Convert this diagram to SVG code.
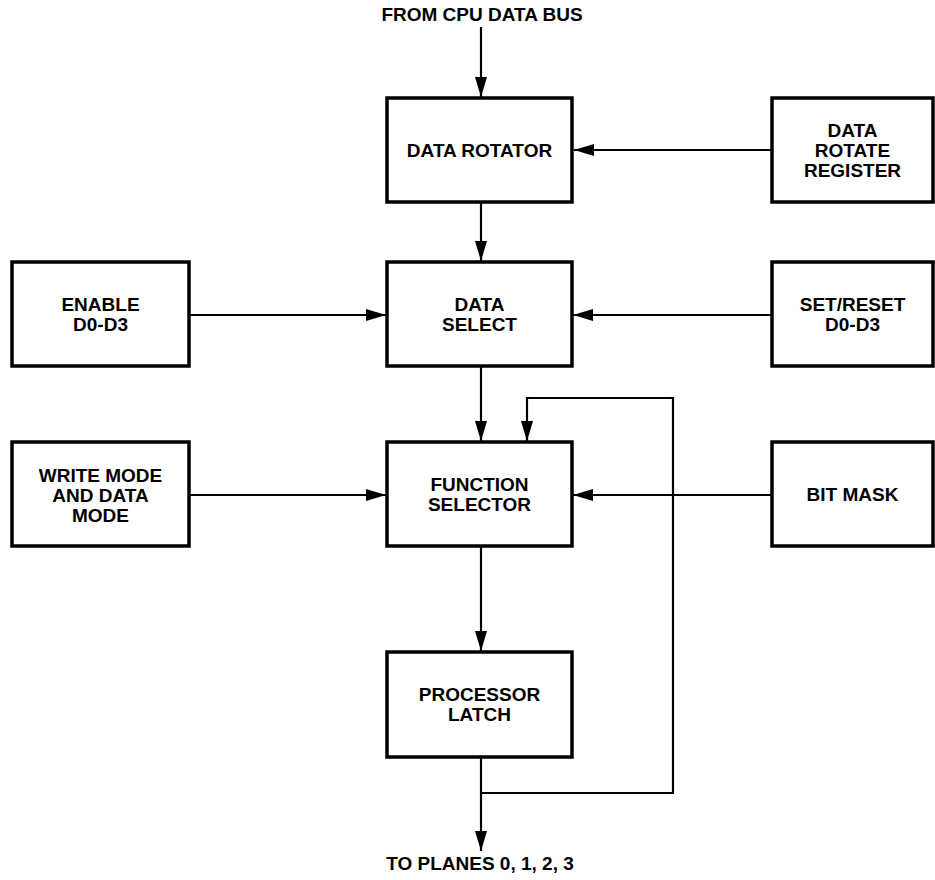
<svg xmlns="http://www.w3.org/2000/svg" width="935" height="880" viewBox="0 0 935 880">
<defs>
<style>
.box{fill:#fff;stroke:#000;stroke-width:3.5}
.t{font-family:"Liberation Sans",Arial,Helvetica,sans-serif;font-weight:bold;font-size:19px;fill:#000;text-anchor:middle}
.c{fill:none;stroke:#000;stroke-width:2.2}
</style>
<marker id="ah" markerUnits="userSpaceOnUse" markerWidth="20" markerHeight="14" viewBox="0 0 20 14" refX="20" refY="7" orient="auto">
<path d="M0,1 L20,7 L0,13 Z" fill="#000"/>
</marker>
</defs>
<rect width="935" height="880" fill="#fff"/>
<g id="connectors">
<path class="c" d="M481,27 V97" marker-end="url(#ah)"/>
<path class="c" d="M772,150 H574" marker-end="url(#ah)"/>
<path class="c" d="M481,202 V261" marker-end="url(#ah)"/>
<path class="c" d="M189,315 H386" marker-end="url(#ah)"/>
<path class="c" d="M772,315 H573" marker-end="url(#ah)"/>
<path class="c" d="M481,366 V441" marker-end="url(#ah)"/>
<path class="c" d="M189,495 H386" marker-end="url(#ah)"/>
<path class="c" d="M772,495 H573" marker-end="url(#ah)"/>
<path class="c" d="M481,546 V651" marker-end="url(#ah)"/>
<path class="c" d="M481,757 V851" marker-end="url(#ah)"/>
<path class="c" d="M481,793 H673 V398 H527 V441" marker-end="url(#ah)"/>
</g>
<g id="label-top"><text class="t" x="482" y="21">FROM CPU DATA BUS</text></g>
<g id="label-bottom"><text class="t" x="480" y="870">TO PLANES 0, 1, 2, 3</text></g>
<g id="data-rotator">
<rect class="box" x="387" y="98" width="185" height="104"/>
<text class="t" x="479.5" y="157">DATA ROTATOR</text>
</g>
<g id="data-rotate-register">
<rect class="box" x="772" y="98" width="161" height="104"/>
<text class="t" x="852.5" y="137">DATA</text>
<text class="t" x="852.5" y="157">ROTATE</text>
<text class="t" x="852.5" y="177">REGISTER</text>
</g>
<g id="enable">
<rect class="box" x="12" y="262" width="177" height="104"/>
<text class="t" x="100.5" y="311">ENABLE</text>
<text class="t" x="100.5" y="331">D0-D3</text>
</g>
<g id="data-select">
<rect class="box" x="387" y="262" width="185" height="104"/>
<text class="t" x="479.5" y="311">DATA</text>
<text class="t" x="479.5" y="331">SELECT</text>
</g>
<g id="set-reset">
<rect class="box" x="772" y="262" width="161" height="104"/>
<text class="t" x="852.5" y="311">SET/RESET</text>
<text class="t" x="852.5" y="331">D0-D3</text>
</g>
<g id="write-mode">
<rect class="box" x="12" y="442" width="177" height="104"/>
<text class="t" x="100.5" y="482">WRITE MODE</text>
<text class="t" x="100.5" y="502">AND DATA</text>
<text class="t" x="100.5" y="522">MODE</text>
</g>
<g id="function-selector">
<rect class="box" x="387" y="442" width="185" height="104"/>
<text class="t" x="479.5" y="491">FUNCTION</text>
<text class="t" x="479.5" y="511">SELECTOR</text>
</g>
<g id="bit-mask">
<rect class="box" x="772" y="442" width="161" height="104"/>
<text class="t" x="852.5" y="501">BIT MASK</text>
</g>
<g id="processor-latch">
<rect class="box" x="387" y="652" width="185" height="105"/>
<text class="t" x="479.5" y="701">PROCESSOR</text>
<text class="t" x="479.5" y="721">LATCH</text>
</g>
</svg>
